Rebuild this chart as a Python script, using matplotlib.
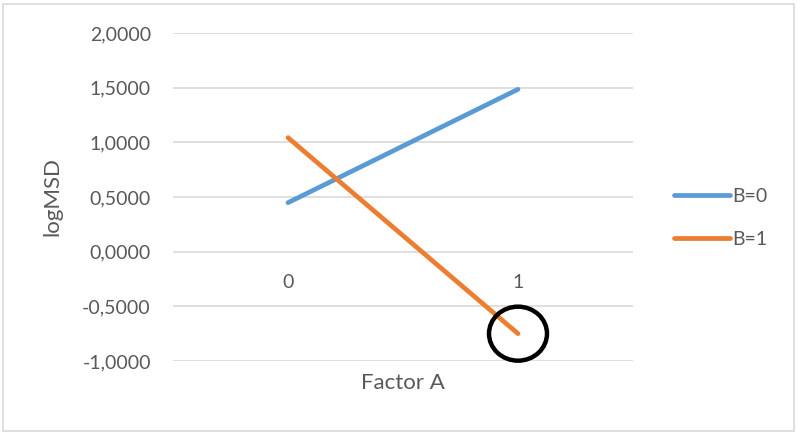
import matplotlib
matplotlib.use("Agg")
import matplotlib.pyplot as plt
from matplotlib.patches import Ellipse, Rectangle

plt.rcParams['font.family'] = ['Lato', 'DejaVu Sans']

factor_a = ["0", "1"]
b0_values = [0.448, 1.485]
b1_values = [1.043, -0.750]
series_labels = ["B=0", "B=1"]
y_ticks = [-1.0, -0.5, 0.0, 0.5, 1.0, 1.5, 2.0]

text_col = "#595959"
grid_col = "#d9d9d9"

fig = plt.figure(figsize=(7.97, 4.34), dpi=100)
ax = fig.add_axes([173 / 797, 1 - 361 / 434, 460 / 797, 328 / 434])

x = list(range(len(factor_a)))
ax.plot(x, b0_values, color="#5B9BD5", lw=3.4, solid_capstyle="round", label=series_labels[0])
ax.plot(x, b1_values, color="#ED7D31", lw=3.4, solid_capstyle="round", label=series_labels[1])

ax.set_xlim(-0.5, 1.5)
ax.set_ylim(-1.0, 2.0)
ax.set_yticks(y_ticks)
ax.set_yticklabels([f"{v:.4f}".replace(".", ",") for v in y_ticks])
ax.tick_params(axis="y", length=0, pad=16, labelsize=14, colors=text_col)
ax.set_xticks([])
for s in ax.spines.values():
    s.set_visible(False)
ax.grid(axis="y", color=grid_col, lw=1.2)
ax.set_axisbelow(True)

# category labels sit just under the zero line
for xi, lab in zip(x, factor_a):
    ax.annotate(lab, (xi, 0), xytext=(0, -31), textcoords="offset pixels",
                ha="center", va="center", fontsize=14, color=text_col)

ax.set_xlabel("Factor A", fontsize=16, color=text_col)
ax.set_ylabel("logMSD", fontsize=16, color=text_col)
ax.xaxis.set_label_coords(0.5, -(383 - 361) / 328)
ax.xaxis.label.set_va("center")
ax.yaxis.set_label_coords(-(173 - 52) / 460, 0.5)
ax.yaxis.label.set_va("center")

# circle marking the B=1 end point
circ = Ellipse((x[1], b1_values[1]), width=58 / 230, height=54 / 109.3,
               fill=False, ec="black", lw=3.2, clip_on=False, zorder=5)
ax.add_patch(circ)

leg = fig.legend(loc="center left", bbox_to_anchor=(656 / 797, 1 - 218 / 434),
                 frameon=False, fontsize=14, handlelength=2.9,
                 handletextpad=0.1, labelspacing=1.35)
for t in leg.get_texts():
    t.set_color(text_col)

fig.patches.append(Rectangle((3 / 797, 3 / 434), 791 / 797, 427 / 434,
                             transform=fig.transFigure, fill=False,
                             ec="#d9d9d9", lw=1.2))

fig.savefig("out.png", dpi=100)
